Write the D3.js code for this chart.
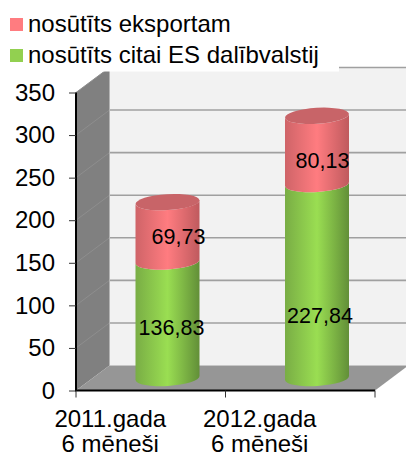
<!DOCTYPE html>
<html><head><meta charset="utf-8">
<script src="https://cdn.jsdelivr.net/npm/d3@7"></script>
<style>html,body{margin:0;padding:0;background:#fff}svg{display:block}text{font-family:"Liberation Sans",Arial,sans-serif;fill:#000}</style>
</head><body><div id="c"></div>
<script>
const categories=[["2011.gada","6 mēneši"],["2012.gada","6 mēneši"]];
const seriesNames=["nosūtīts eksportam","nosūtīts citai ES dalībvalstij"];
const citaiES=[136.83,227.84];
const eksportam=[69.73,80.13];
const yTicks=[0,50,100,150,200,250,300,350];
const fmt=v=>v.toFixed(2).replace(".",",");

const W=406,H=457,left=76,right=375,depX=33.5,depY=-25,fs=24,lfs=21.5;
const y=d3.scaleLinear().domain([0,350]).range([390.5,92.5]);
const x=d3.scaleBand().domain(d3.range(categories.length)).range([left,right]);
const svg=d3.select("#c").append("svg").attr("width",W).attr("height",H);
const defs=svg.append("defs");
function grad(id,edgeL,mid,edgeR){
  const g=defs.append("linearGradient").attr("id",id);
  [[0,edgeL],[.5,mid],[1,edgeR]].forEach(s=>g.append("stop").attr("offset",s[0]).attr("stop-color",s[1]));
}
grad("red","#cf6468","#ff7c80","#bf5a5e");
grad("green","#79ad45","#9ade52","#628f38");

const poly=p=>"M"+p.map(q=>q.join(",")).join("L")+"Z";
const y0=y(0),y3=y(350);
// back wall
svg.append("rect").attr("x",left+depX).attr("y",y3+depY).attr("width",W-left-depX).attr("height",y0-y3).attr("fill","#f2f2f2");
// side wall
svg.append("path").attr("d",poly([[left,y3],[left+depX,y3+depY],[left+depX,y0+depY],[left,y0]])).attr("fill","#808080");
// floor
svg.append("path").attr("d",poly([[left,y0],[right,y0],[right+depX,y0+depY],[left+depX,y0+depY]])).attr("fill","#969696");
// gridlines
yTicks.slice(1).forEach(t=>{
  svg.append("line").attr("x1",left+depX).attr("x2",W).attr("y1",y(t)+depY).attr("y2",y(t)+depY).attr("stroke","#a0a0a0").attr("stroke-width",1.6);
  svg.append("line").attr("x1",left).attr("x2",left+depX).attr("y1",y(t)).attr("y2",y(t)+depY).attr("stroke","#8e8e8e").attr("stroke-width",1);
});
svg.append("line").attr("x1",left+depX).attr("x2",left+depX).attr("y1",y3+depY).attr("y2",y0+depY).attr("stroke","#b4b4b4").attr("stroke-width",1);

// cylinders
const rx=32,ry=8,tilt=3.5,tdy=2;
const base=v=>y(v)+depY/2;
function seg(cx,a,b){
  const A=base(a),B=base(b);
  return `M${cx-rx},${A+tdy}A${rx},${ry} ${-tilt} 0 0 ${cx+rx},${A-tdy}L${cx+rx},${B-tdy}A${rx},${ry} ${-tilt} 0 1 ${cx-rx},${B+tdy}Z`;
}
categories.forEach((c,i)=>{
  const cx=x(i)+x.bandwidth()/2+depX/2;
  const a=citaiES[i],b=a+eksportam[i];
  svg.append("path").attr("d",seg(cx,0,a)).attr("fill","url(#green)");
  svg.append("path").attr("d",seg(cx,a,b)).attr("fill","url(#red)");
  svg.append("ellipse").attr("cx",cx).attr("cy",base(b)).attr("rx",rx).attr("ry",ry)
    .attr("transform",`rotate(${-tilt} ${cx} ${base(b)})`).attr("fill","#c86468");
});
// data labels, nudged from the middle of each segment
const nudgeGreen=[[4,8],[3,34]], nudgeRed=[[11,5],[5.5,10.6]];
categories.forEach((c,i)=>{
  const cx=x(i)+x.bandwidth()/2+depX/2;
  const a=citaiES[i],b=eksportam[i];
  svg.append("text").attr("text-anchor","middle").attr("font-size",lfs).attr("x",cx+nudgeGreen[i][0]).attr("y",base(a/2)+nudgeGreen[i][1]).attr("dy",".35em").text(fmt(a));
  svg.append("text").attr("text-anchor","middle").attr("font-size",lfs).attr("x",cx+nudgeRed[i][0]).attr("y",base(a+b/2)+nudgeRed[i][1]).attr("dy",".35em").text(fmt(b));
});

// axes
const axisY=d3.axisLeft(y).tickValues(yTicks).tickSize(7).tickPadding(14).tickFormat(d3.format("d"));
const gy=svg.append("g").attr("transform",`translate(${left},0)`).call(axisY);
gy.select(".domain").attr("stroke","#000").attr("stroke-width",2).attr("d",`M0,${y3}V${y0}`);
gy.selectAll(".tick line").attr("stroke","#333").attr("stroke-width",1);
gy.selectAll("text").style("font-family",'"Liberation Sans",Arial,sans-serif').style("font-size",fs+"px").attr("fill","#000");

svg.append("line").attr("x1",left-1).attr("x2",right).attr("y1",y0).attr("y2",y0).attr("stroke","#000").attr("stroke-width",2);
[left,left+x.bandwidth(),right].forEach(t=>svg.append("line").attr("x1",t).attr("x2",t).attr("y1",y0).attr("y2",y0+7).attr("stroke","#333").attr("stroke-width",1));
categories.forEach((c,i)=>{
  const t=svg.append("text").attr("text-anchor","middle").attr("font-size",fs);
  c.forEach((s,j)=>t.append("tspan").attr("x",x(i)+x.bandwidth()/2-40.5).attr("y",426.5+j*25.5).text(s));
});

// legend
svg.append("rect").attr("x",0).attr("y",0).attr("width",339).attr("height",71.5).attr("fill","#fff");
const colors=["#ff7c80","#92d050"];
seriesNames.forEach((n,i)=>{
  const yy=18+i*31;
  svg.append("rect").attr("x",10).attr("y",yy).attr("width",13).attr("height",13).attr("fill",colors[i]);
  svg.append("text").attr("x",28).attr("y",yy+14).attr("font-size",fs).text(n);
});
</script></body></html>
